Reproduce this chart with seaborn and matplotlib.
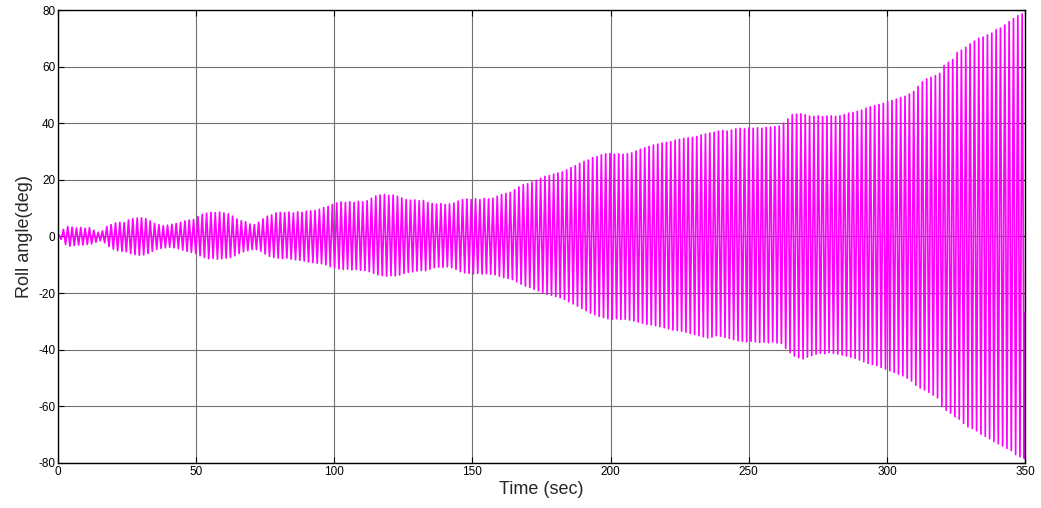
import numpy as np
import pandas as pd
import matplotlib
matplotlib.use("Agg")
import matplotlib.pyplot as plt
import seaborn as sns

# ---- data (one value per oscillation cycle) ----
period = 1.57          # oscillation period (s)
first_peak = 0.4       # time of first crest (s)
start_value = 0.0
end_time, end_value = 350.0, -27.0

# crest values per cycle (deg)
upper_peaks = [
    0.5, 2.5, 3.5, 3.3, 3.0, 3.2, 2.9, 3.1, 2.2, 1.5,
    2.0, 3.5, 4.2, 4.8, 5.0, 4.9, 5.8, 6.3, 6.5, 6.6,
    6.3, 5.5, 4.6, 4.2, 3.8, 4.0, 4.3, 4.6, 5.0, 5.5,
    5.8, 6.0, 7.0, 7.8, 8.2, 8.5, 8.4, 8.6, 8.3, 8.0,
    7.2, 6.2, 5.6, 5.2, 4.4, 4.2, 5.0, 6.2, 7.2, 7.6,
    8.3, 8.5, 8.4, 8.6, 8.3, 8.7, 8.5, 8.9, 9.0, 9.2,
    9.6, 10.2, 10.6, 11.3, 11.8, 12.2, 12.0, 12.3, 12.0, 12.4,
    12.2, 12.6, 13.5, 14.3, 14.6, 14.8, 14.5, 14.6, 14.2, 13.6,
    13.0, 12.8, 12.9, 12.6, 12.7, 12.0, 11.6, 11.4, 11.6, 11.3,
    11.5, 11.8, 12.5, 13.0, 13.2, 13.0, 13.3, 13.0, 13.4, 13.2,
    13.5, 14.2, 14.8, 15.2, 15.6, 16.5, 17.5, 18.3, 18.6, 19.2,
    19.8, 20.5, 21.2, 21.5, 22.0, 22.4, 22.8, 23.5, 24.3, 25.0,
    25.8, 26.5, 27.0, 27.8, 28.2, 28.8, 29.2, 29.3, 29.0, 29.2,
    29.0, 29.2, 29.5, 30.2, 30.8, 31.3, 31.8, 32.3, 32.6, 33.0,
    33.2, 33.5, 34.0, 34.3, 34.6, 34.8, 35.0, 35.3, 35.8, 36.2,
    36.5, 36.8, 37.2, 37.4, 37.2, 37.6, 38.0, 38.2, 38.0, 38.3,
    38.2, 38.4, 38.2, 38.5, 38.6, 38.8, 39.0, 40.0, 41.5, 43.0,
    43.2, 43.3, 43.0, 42.5, 42.4, 42.6, 42.3, 42.5, 42.6, 42.4,
    42.6, 43.0, 43.5, 43.8, 44.2, 44.6, 45.3, 45.8, 46.2, 46.6,
    47.0, 47.5, 48.0, 48.5, 49.0, 49.5, 50.3, 51.2, 53.0, 54.6,
    55.6, 56.2, 56.8, 57.6, 60.4, 61.5, 62.5, 65.0, 65.8, 66.8,
    68.0, 69.0, 70.0, 70.4, 71.2, 71.8, 73.0, 73.6, 74.7, 75.9,
    77.0, 78.0, 78.6,
]

# trough values per cycle (deg)
lower_troughs = [
    -1.0, -2.8, -3.4, -3.2, -3.0, -3.0, -2.8, -2.6, -2.0, -1.5,
    -2.2, -3.5, -4.5, -5.0, -5.2, -5.4, -6.0, -6.4, -6.6, -6.5,
    -6.0, -5.2, -4.5, -4.2, -4.0, -3.8, -4.0, -4.3, -4.8, -5.2,
    -5.6, -6.0, -6.8, -7.4, -7.8, -7.7, -8.0, -7.8, -7.6, -7.4,
    -6.8, -6.0, -5.4, -5.0, -4.6, -4.6, -5.2, -6.2, -7.0, -7.4,
    -7.6, -7.8, -7.6, -8.0, -8.2, -8.4, -8.6, -9.0, -9.2, -9.4,
    -9.6, -10.0, -10.6, -11.0, -11.4, -11.6, -11.5, -11.8, -11.6, -11.9,
    -12.0, -12.4, -13.0, -13.5, -13.8, -14.0, -13.8, -13.9, -13.6, -13.0,
    -12.6, -12.4, -12.2, -12.0, -12.1, -11.5, -11.0, -10.8, -10.9, -10.7,
    -11.0, -11.6, -12.4, -12.8, -13.0, -13.2, -13.0, -13.2, -13.1, -13.3,
    -13.5, -14.0, -14.5, -14.8, -15.2, -16.0, -16.8, -17.5, -18.0, -18.6,
    -19.2, -19.8, -20.4, -20.8, -21.2, -21.6, -22.2, -23.0, -23.8, -24.6,
    -25.4, -26.2, -27.0, -27.6, -28.2, -28.6, -29.0, -29.2, -29.0, -29.3,
    -29.2, -29.5, -29.8, -30.2, -30.6, -31.0, -31.2, -31.5, -31.8, -32.2,
    -32.6, -33.0, -33.2, -33.4, -33.8, -34.2, -34.6, -35.0, -35.4, -35.8,
    -35.5, -35.0, -35.2, -35.6, -36.0, -36.4, -36.8, -37.0, -37.2, -37.0,
    -37.2, -37.4, -37.3, -37.5, -37.2, -37.6, -37.8, -39.5, -41.0, -42.2,
    -42.8, -43.2, -42.6, -42.0, -41.5, -41.2, -41.4, -41.0, -41.3, -41.5,
    -41.8, -42.2, -42.6, -43.0, -43.6, -44.2, -44.8, -45.2, -45.6, -46.2,
    -46.8, -47.4, -48.0, -48.6, -49.2, -50.0, -51.0, -52.5, -53.5, -54.2,
    -55.0, -56.0, -57.0, -60.0, -61.4, -62.4, -63.6, -64.5, -66.0, -67.2,
    -67.8, -68.6, -69.8, -70.6, -71.4, -72.4, -73.2, -74.0, -74.8, -75.6,
    -77.0, -77.8, -78.4,
]

x_ticks = [0, 50, 100, 150, 200, 250, 300, 350]
y_ticks = [-80, -60, -40, -20, 0, 20, 40, 60, 80]
x_label = "Time (sec)"
y_label = "Roll angle(deg)"

# ---- assemble the polyline: crest, trough, crest, trough ... ----
n = len(upper_peaks)
times = [0.0]
values = [start_value]
for k in range(n):
    tp = first_peak + k * period
    times += [tp, tp + period / 2]
    values += [upper_peaks[k], lower_troughs[k]]
times.append(end_time)
values.append(end_value)
df = pd.DataFrame({"t": times, "roll": values})

# ---- figure ----
sns.set_style("white")
plt.rcParams["font.family"] = ["Liberation Sans", "DejaVu Sans"]

fig = plt.figure(figsize=(10.41, 5.08), dpi=100)
ax = fig.add_axes([0.0557, 0.0886, 0.929, 0.8917])

sns.lineplot(data=df, x="t", y="roll", sort=False, estimator=None,
             color="#ff00ff", linewidth=1.25, ax=ax)

ax.set_xlim(0, 350)
ax.set_ylim(-80, 80)
ax.set_xticks(x_ticks)
ax.set_yticks(y_ticks)
ax.set_xticklabels([str(v) for v in x_ticks], fontsize=8.5)
ax.set_yticklabels([str(v) for v in y_ticks], fontsize=8.5)
ax.tick_params(direction="in", length=4, width=0.8, top=True, right=True,
               bottom=True, left=True, pad=2, colors="black")
ax.grid(True, color="#707070", linewidth=0.8, linestyle="-")
ax.set_axisbelow(True)
for s in ax.spines.values():
    s.set_visible(True)
    s.set_color("black")
    s.set_linewidth(1.0)

ax.set_xlabel(x_label, fontsize=13, labelpad=2)
ax.set_ylabel(y_label, fontsize=13, labelpad=4)

fig.savefig("out.png", dpi=100, facecolor="white")
